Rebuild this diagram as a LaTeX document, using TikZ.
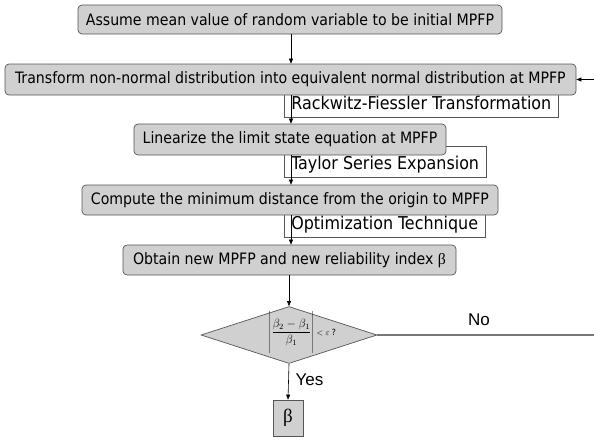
\documentclass[tikz,border=0pt]{standalone}
\usepackage{fontspec}
\setmainfont{DejaVu Sans Condensed}
\newfontfamily\yesnofont{Liberation Sans}
\newfontfamily\greekfont{Liberation Serif}
\usetikzlibrary{shapes.geometric,arrows.meta}
\definecolor{boxgray}{RGB}{208,208,208}
\definecolor{edgegray}{RGB}{85,85,85}
\definecolor{linegray}{RGB}{120,120,120}
\begin{document}
\begin{tikzpicture}[x=1pt,y=-1pt,
  procbox/.style={draw=edgegray, fill=boxgray, rounded corners=4pt, line width=0.7pt,
    inner sep=0pt, font=\fontsize{15.7}{18}\selectfont},
  methodlbl/.style={draw=edgegray, fill=white, line width=0.7pt, anchor=south west,
    text height=23pt, text depth=8pt, inner xsep=7pt, inner ysep=0pt,
    font=\fontsize{17.7}{20}\selectfont},
  flow/.style={draw=black, line width=0.6pt, -{Triangle[length=5pt,width=4pt]}},
  answer/.style={font=\yesnofont\fontsize{17}{19}\selectfont}
]
\useasboundingbox (0,0) rectangle (594,439);

% method labels sit behind the process boxes
\node[methodlbl] (rf) at (284,118) {Rackwitz-Fiessler Transformation};
\node[methodlbl] (ts) at (284,178) {Taylor Series Expansion};
\node[methodlbl] (ot) at (284,238) {Optimization Technique};

% process boxes
\node[procbox, minimum width=424pt, minimum height=29pt] (s1) at (290,19.5)
  {Assume mean value of random variable to be initial MPFP};
\node[procbox, minimum width=571pt, minimum height=31pt] (s2) at (290.5,79.5)
  {Transform non-normal distribution into equivalent normal distribution at MPFP};
\node[procbox, minimum width=312pt, minimum height=31pt] (s3) at (290,139.5)
  {Linearize the limit state equation at MPFP};
\node[procbox, minimum width=416pt, minimum height=30pt] (s4) at (290,200)
  {Compute the minimum distance from the origin to MPFP};
\node[procbox, minimum width=333pt, minimum height=30pt] (s5) at (289.5,260)
  {Obtain new MPFP and new reliability index {\greekfont β}};

% convergence check
\node[diamond, draw=edgegray, fill=boxgray, line width=0.7pt, inner sep=0pt,
  minimum width=176pt, minimum height=57pt] (chk) at (289,335) {};
\node[anchor=center, inner sep=0pt] (crit) at (302,333)
  {\fontsize{12}{14}\selectfont$\displaystyle\left|\rule[-19pt]{0pt}{38pt}\frac{\beta_2-\beta_1}{\beta_1}\right|$\,{\fontsize{8.5}{10}\selectfont$<\varepsilon$ ?}};

% result
\node[draw=edgegray, fill=boxgray, line width=0.7pt, minimum width=30pt,
  minimum height=36pt, inner sep=0pt] (res) at (288,418) {\greekfont\fontsize{19}{21}\selectfont β};

% connectors
\coordinate (fbin) at (594,79.5);
\coordinate (noend) at (594,335);
\draw[flow] (s1.south -| 291,0) -- (s2.north -| 291,0);
\draw[flow] (s2.south -| 291,0) -- (s3.north -| 291,0);
\draw[flow] (s3.south -| 291,0) -- (s4.north -| 291,0);
\draw[flow] (s4.south -| 291,0) -- (s5.north -| 291,0);
\draw[flow] (s5.south -| 289,0) -- (chk.north);
\draw[flow] (chk.south) -- (res.north);
\draw[flow] (fbin) -- (s2.east);
\draw[draw=linegray, line width=1.1pt] (chk.east) -- (noend);

% branch labels
\node[answer, anchor=west] (yes) at (292,380) {Yes};
\node[answer] (no) at (479,320) {No};
\end{tikzpicture}
\end{document}
